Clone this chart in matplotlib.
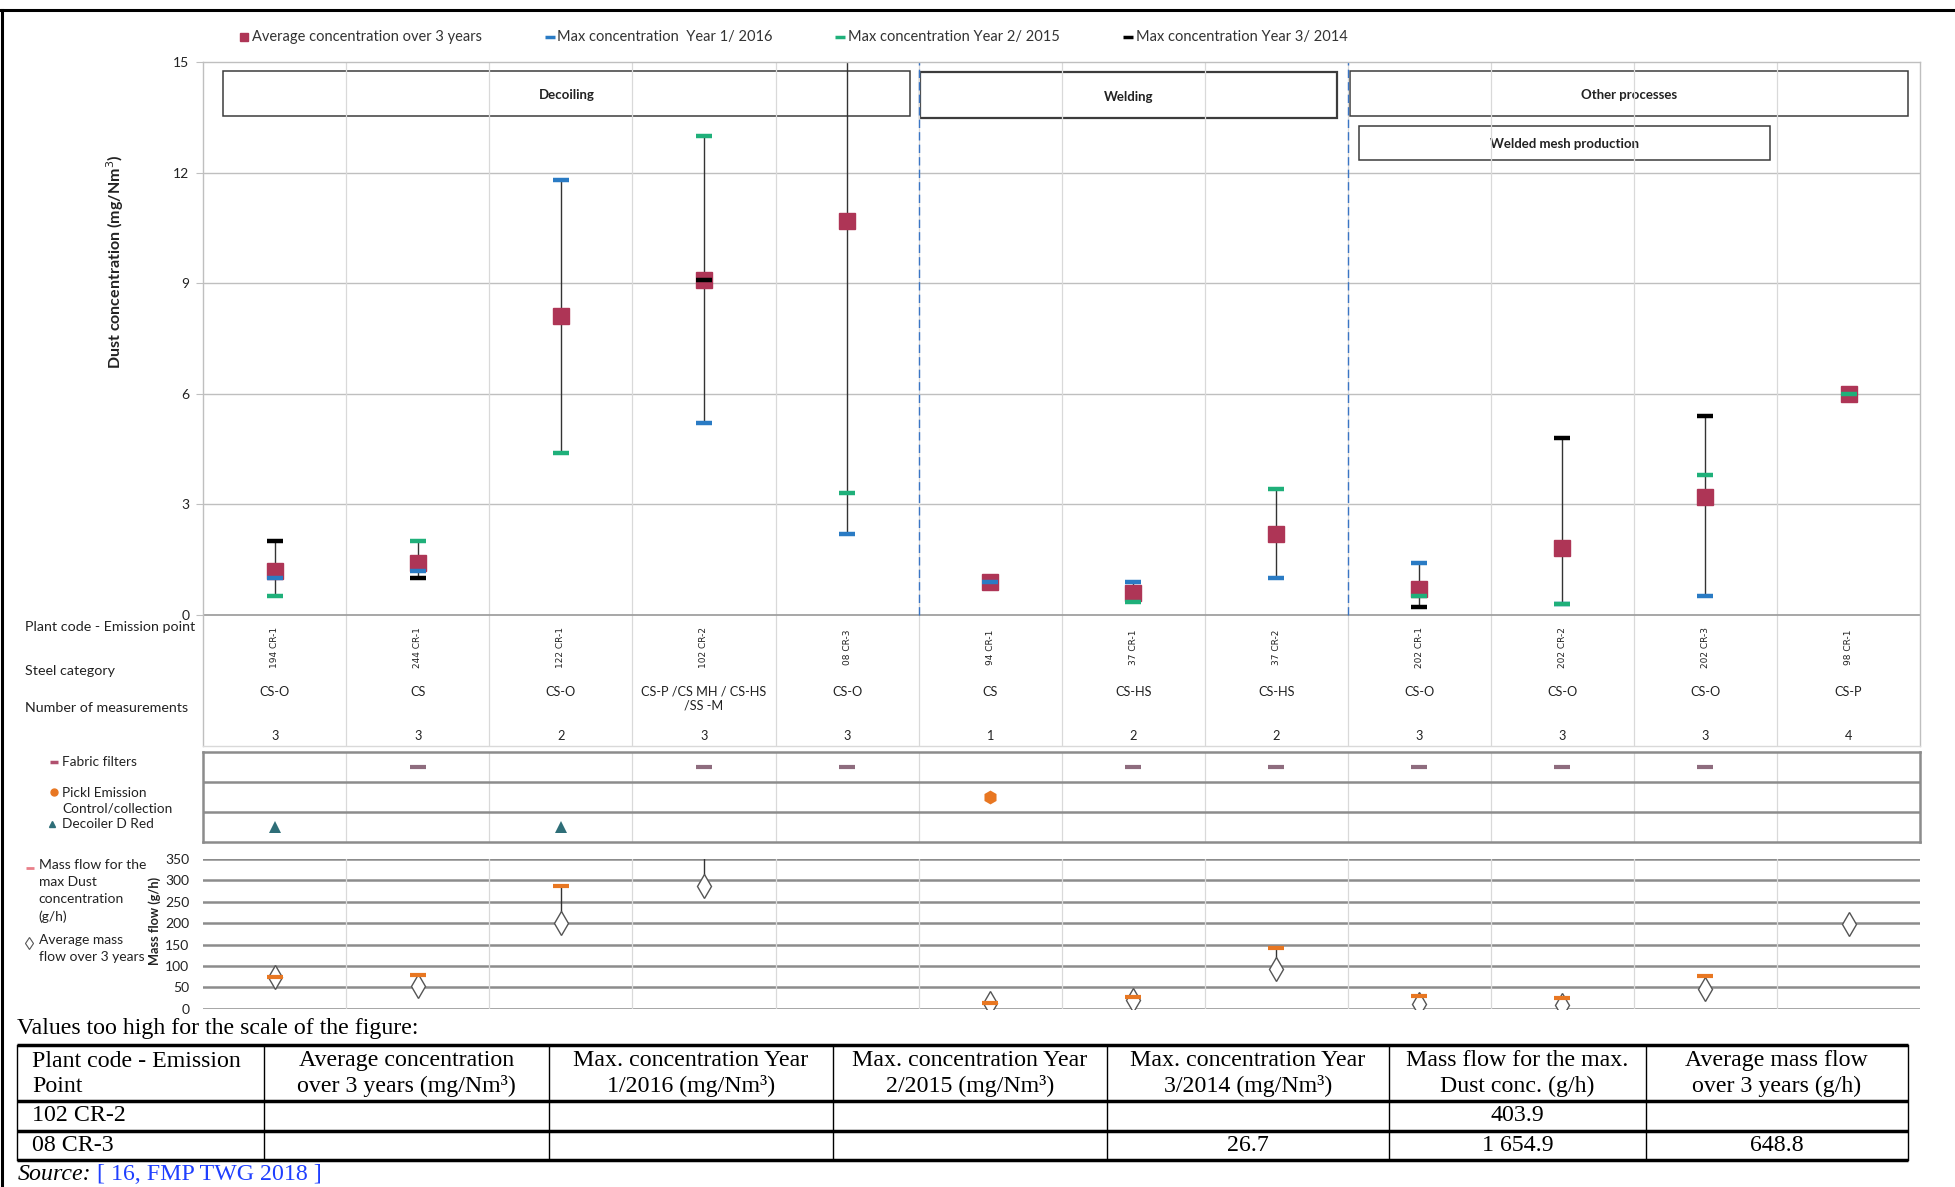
import numpy as np
import matplotlib.pyplot as plt
from matplotlib.patches import Rectangle

nan = np.nan

###--- Data
plants = ['194 CR-1', '244 CR-1', '122 CR-1', '102 CR-2', '08 CR-3', '94 CR-1',
          '37 CR-1', '37 CR-2', '202 CR-1', '202 CR-2', '202 CR-3', '98 CR-1']
steel = ['CS-O', 'CS', 'CS-O', 'CS-P /CS MH / CS-HS\n/SS -M', 'CS-O', 'CS',
         'CS-HS', 'CS-HS', 'CS-O', 'CS-O', 'CS-O', 'CS-P']
n_meas = [3, 3, 2, 3, 3, 1, 2, 2, 3, 3, 3, 4]

# dust concentration (mg/Nm3)
avg_conc = [1.2, 1.4, 8.1, 9.1, 10.7, 0.9, 0.6, 2.2, 0.7, 1.8, 3.2, 6.0]
max_y1 = [1.0, 1.2, 11.8, 5.2, 2.2, 0.9, 0.9, 1.0, 1.4, 0.3, 0.5, nan]
max_y2 = [0.5, 2.0, 4.4, 13.0, 3.3, nan, 0.35, 3.4, 0.5, 0.3, 3.8, 6.0]
max_y3 = [2.0, 1.0, nan, 9.1, 26.7, nan, nan, nan, 0.2, 4.8, 5.4, nan]

# abatement technique rows
tech_names = ['Fabric filters', 'Pickl Emission\nControl/collection', 'Decoiler D Red']
technique = ['Decoiler D Red', 'Fabric filters', 'Decoiler D Red', 'Fabric filters',
             'Fabric filters', 'Pickl Emission\nControl/collection', 'Fabric filters',
             'Fabric filters', 'Fabric filters', 'Fabric filters', 'Fabric filters', None]

# mass flow (g/h)
mass_max = [75, 78, 287, 403.9, 1654.9, 14, 27, 141, 29, 25, 77, nan]
mass_avg = [74, 52, 200, 288, 648.8, 13, 20, 94, 12, 9, 45, 197]

# process groups (first, last plant index)
groups = [('Decoiling', 0, 4), ('Welding', 5, 7), ('Other processes', 8, 11)]

# table of values too high for the scale
tab_header = ['Plant code - Emission\nPoint', 'Average concentration\nover 3 years (mg/Nm³)',
              'Max. concentration Year\n1/2016 (mg/Nm³)', 'Max. concentration Year\n2/2015 (mg/Nm³)',
              'Max. concentration Year\n3/2014 (mg/Nm³)', 'Mass flow for the max.\nDust conc. (g/h)',
              'Average mass flow\nover 3 years (g/h)']
tab_rows = [['102 CR-2', '', '', '', '', '403.9', ''],
            ['08 CR-3', '', '', '', '26.7', '1 654.9', '648.8']]

###--- Styles
c_avg = '#AE3556'
c_y1 = '#2A7BC4'
c_y2 = '#1FB07A'
c_y3 = '#000000'
c_orange = '#E87722'
c_ff = '#8E6C7E'
c_tri = '#2E6E78'
grid_c = '#BFBFBF'
vgrid_c = '#D9D9D9'
txt_c = '#222222'

plt.rcParams['font.family'] = ['Lato', 'DejaVu Sans']

W, H = 1568, 952  # layout grid (pixels of the shrunk reference)


def rect(x0, y0, x1, y1):
    return [x0 / W, 1 - y1 / H, (x1 - x0) / W, (y1 - y0) / H]


fig = plt.figure(figsize=(19.55, 11.87), dpi=100)
ov = fig.add_axes([0, 0, 1, 1])
ov.set_xlim(0, W)
ov.set_ylim(H, 0)
ov.axis('off')

x = np.arange(len(plants))

###--- Main concentration panel
ax = fig.add_axes(rect(163, 50, 1540, 598))
ax.patch.set_alpha(0)
ax.set_xlim(-0.5, len(plants) - 0.5)
unit = (493 - 50) / 15.0
ybot = -(598 - 493) / unit
ax.set_ylim(ybot, 15)
ax.set_yticks([0, 3, 6, 9, 12, 15])
ax.set_xticks([])
ax.tick_params(axis='y', length=5, color=grid_c, labelsize=10, pad=5, labelcolor=txt_c)
for s in ax.spines.values():
    s.set_color(grid_c)
    s.set_linewidth(1)
ax.spines['bottom'].set_color(vgrid_c)
for yv in [3, 6, 9, 12]:
    ax.axhline(yv, color=grid_c, lw=1, zorder=0)
ax.axhline(0, color='#A0A0A0', lw=1.3, zorder=1)
for xv in x[:-1] + 0.5:
    ax.axvline(xv, color=vgrid_c, lw=0.9, zorder=0)
for g in groups[1:]:
    ax.plot([g[1] - 0.5] * 2, [0, 15], color='#3A75C4', lw=1, ls=(0, (6, 3)), zorder=1)

for i in x:
    vals = np.array([avg_conc[i], max_y1[i], max_y2[i], max_y3[i]])
    vals = vals[~np.isnan(vals)]
    ax.vlines(i, vals.min(), vals.max(), color='#333333', lw=1, zorder=2)
ax.plot(x, avg_conc, 's', color=c_avg, ms=11, zorder=3)
ax.plot(x, max_y1, '_', color=c_y1, ms=11, mew=3.2, zorder=4)
ax.plot(x, max_y3, '_', color=c_y3, ms=11, mew=3.2, zorder=4)
ax.plot(x, max_y2, '_', color=c_y2, ms=11, mew=3.2, zorder=4)

ov.text(92, 210, 'Dust concentration (mg/Nm$^3$)', rotation=90, ha='center', va='center',
        fontsize=11.5, fontweight='bold', color=txt_c)

for i in x:
    ax.text(i, (493 - 519) / unit, plants[i], rotation=90, ha='center', va='center',
            fontsize=6.5, family='DejaVu Sans', color=txt_c)
    ax.text(i, (493 - 550) / unit, steel[i], ha='center', va='top', fontsize=9.2,
            linespacing=1.15, color=txt_c)
    ax.text(i, (493 - 590) / unit, str(n_meas[i]), ha='center', va='center',
            fontsize=9.2, color=txt_c)

for lab, yy in [('Plant code - Emission point', 503), ('Steel category', 538),
                ('Number of measurements', 568)]:
    ov.text(20, yy, lab, fontsize=10.3, va='center', color=txt_c)

# process boxes
box_geo = [('Decoiling', 179, 57, 730, 93), ('Welding', 738, 58, 1072, 95),
           ('Other processes', 1083, 57, 1530, 93),
           ('Welded mesh production', 1090, 101, 1420, 128)]
for name, x0, y0, x1, y1 in box_geo:
    lw = 1.6 if name == 'Welding' else 1.1
    ov.add_patch(Rectangle((x0, y0), x1 - x0, y1 - y0, fill=False, ec='#3C3C3C', lw=lw))
    ov.text((x0 + x1) / 2, (y0 + y1) / 2 + 1, name, ha='center', va='center', fontsize=9.5,
            fontweight='bold', color=txt_c)

# top legend
leg = [('s', c_avg, 'Average concentration over 3 years', 196),
       ('_', c_y1, 'Max concentration  Year 1/ 2016', 441),
       ('_', c_y2, 'Max concentration Year 2/ 2015', 674),
       ('_', c_y3, 'Max concentration Year 3/ 2014', 905)]
for m, c, t, xx in leg:
    if m == 's':
        ov.plot(xx, 30, m, color=c, ms=6)
    else:
        ov.plot(xx, 30, m, color=c, ms=7, mew=2.5)
    ov.text(xx + 6, 30, t, fontsize=10.5, va='center', color='#333333')

###--- Technique panel
at = fig.add_axes(rect(163, 603, 1540, 675))
at.patch.set_alpha(0)
at.set_xlim(-0.5, len(plants) - 0.5)
at.set_ylim(0, 3)
at.set_xticks([])
at.set_yticks([])
for s in at.spines.values():
    s.set_color('#8C8C8C')
    s.set_linewidth(1.8)
for yv in [1, 2]:
    at.axhline(yv, color='#8C8C8C', lw=1.8)
for xv in x[:-1] + 0.5:
    at.axvline(xv, color=vgrid_c, lw=0.9, zorder=0)
tech_style = {'Fabric filters': dict(marker='_', color=c_ff, ms=11, mew=3),
              'Pickl Emission\nControl/collection': dict(marker='h', color=c_orange, ms=10, mew=0),
              'Decoiler D Red': dict(marker='^', color=c_tri, ms=9, mew=0)}
for k, name in enumerate(tech_names):
    idx = [i for i in x if technique[i] == name]
    at.plot(idx, [2.5 - k] * len(idx), ls='none', **tech_style[name])

ov.plot(43, 611, '_', color='#B0506E', ms=6, mew=2.5)
ov.text(50, 611, 'Fabric filters', fontsize=9.8, va='center', color=txt_c)
ov.plot(43, 635, 'o', color=c_orange, ms=5)
ov.text(50, 642, 'Pickl Emission\nControl/collection', fontsize=9.8, va='center',
        linespacing=1.35, color=txt_c)
ov.plot(42, 661, '^', color=c_tri, ms=5)
ov.text(50, 661, 'Decoiler D Red', fontsize=9.8, va='center', color=txt_c)

###--- Mass flow panel
am = fig.add_axes(rect(163, 689, 1540, 809))
am.patch.set_alpha(0)
am.set_xlim(-0.5, len(plants) - 0.5)
am.set_ylim(0, 350)
am.set_yticks(range(0, 351, 50))
am.set_xticks([])
am.tick_params(axis='y', length=0, labelsize=10, pad=10, labelcolor=txt_c)
for yv in range(0, 351, 50):
    am.axhline(yv, color='#8C8C8C', lw=1.8, zorder=0)
for xv in x[:-1] + 0.5:
    am.axvline(xv, color=vgrid_c, lw=0.9, zorder=0)
for s in am.spines.values():
    s.set_visible(False)
for i in x:
    if not np.isnan(mass_max[i]):
        am.vlines(i, mass_avg[i], mass_max[i], color='#333333', lw=1, zorder=2)
am.plot(x, mass_max, '_', color=c_orange, ms=11, mew=3, zorder=4)
am.plot(x, mass_avg, 'd', mfc='white', mec='#555555', ms=12, mew=1, zorder=3)
ov.text(124, 739, 'Mass flow (g/h)', rotation=90, ha='center', va='center',
        fontsize=9.2, fontweight='bold', color=txt_c)

ov.plot(24, 696, '_', color='#E9808A', ms=6, mew=2)
ov.text(31, 689, 'Mass flow for the\nmax Dust\nconcentration\n(g/h)', fontsize=10,
        va='top', linespacing=1.5, color=txt_c)
ov.plot(23, 756, 'd', mfc='white', mec='#555555', ms=6, mew=0.8)
ov.text(31, 749, 'Average mass\nflow over 3 years', fontsize=10, va='top',
        linespacing=1.5, color=txt_c)

###--- Table of off-scale values
serif = 'Liberation Serif'
fs_tab = 17.2
ov.text(14, 825, 'Values too high for the scale of the figure:', fontsize=fs_tab,
        family=serif, va='center')
col_x = [14, 212, 440, 668, 888, 1114, 1320, 1530]
row_y = [838, 883, 907, 930]
for yy in row_y:
    ov.plot([col_x[0], col_x[-1]], [yy, yy], color='black', lw=2.5, solid_capstyle='butt')
for xx in col_x:
    ov.plot([xx, xx], [row_y[0], row_y[-1]], color='black', lw=1)
for j, h in enumerate(tab_header):
    cx = (col_x[j] + col_x[j + 1]) / 2
    if j == 0:
        ov.text(col_x[0] + 12, 861, h, fontsize=fs_tab, family=serif, va='center',
                linespacing=1.25)
    else:
        ov.text(cx, 861, h, fontsize=fs_tab, family=serif, va='center', ha='center',
                linespacing=1.25)
for r, row in enumerate(tab_rows):
    yy = (row_y[r + 1] + row_y[r + 2]) / 2
    for j, v in enumerate(row):
        if j == 0:
            ov.text(col_x[0] + 12, yy, v, fontsize=fs_tab, family=serif, va='center')
        else:
            ov.text((col_x[j] + col_x[j + 1]) / 2, yy, v, fontsize=fs_tab, family=serif,
                    va='center', ha='center')

src = ov.text(14, 942, 'Source:', fontsize=fs_tab, family=serif, style='italic', va='center')
ov.annotate(' [ 16, FMP TWG 2018 ]', xy=(1, 0.5), xycoords=src, va='center',
            fontsize=fs_tab, family=serif, color='#1F3FFF')

# outer frame
ov.plot([0, W], [8, 8], color='black', lw=2.2)
ov.plot([2, 2], [8, H], color='black', lw=2.2)

fig.savefig('out.png', dpi=100)
